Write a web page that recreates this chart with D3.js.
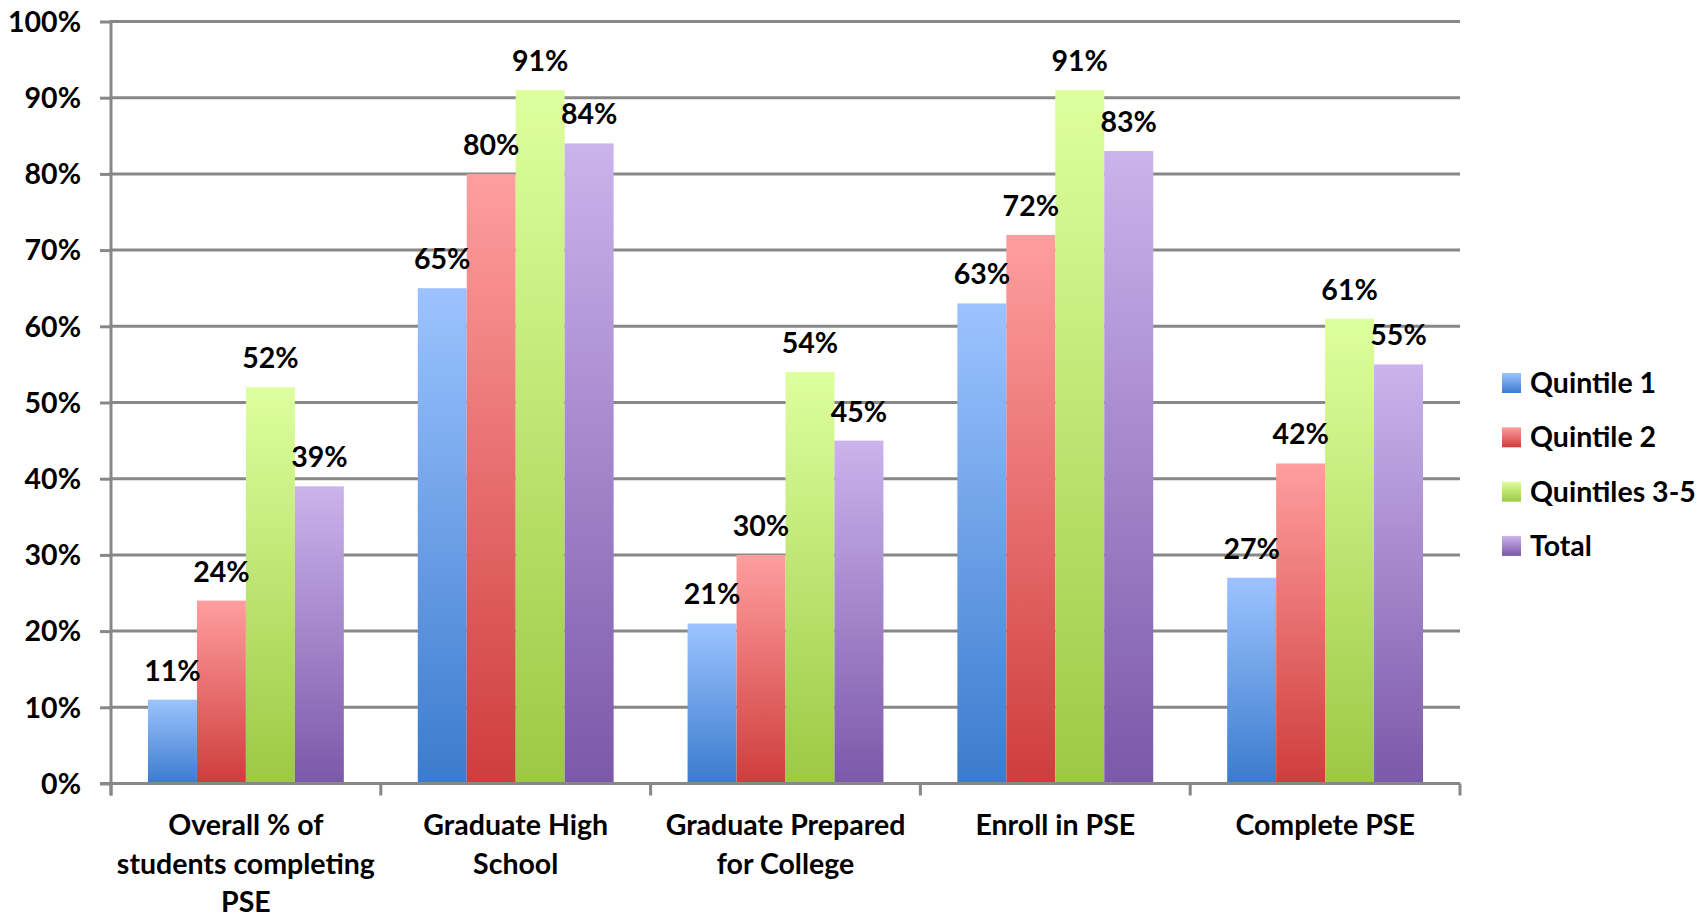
<!DOCTYPE html>
<html>
<head>
<meta charset="utf-8">
<script src="https://cdn.jsdelivr.net/npm/d3@7"></script>
<style>
  html, body { margin: 0; padding: 0; background: #fff; }
  svg { display: block; }
  text { font-family: Lato, "Open Sans", sans-serif; font-weight: 700; fill: #000; }
</style>
</head>
<body>
<svg id="chart" width="1707" height="919"></svg>
<script>
// Categories (axis labels are split into lines as printed)
const categories = [
  "Overall % of students completing PSE",
  "Graduate High School",
  "Graduate Prepared for College",
  "Enroll in PSE",
  "Complete PSE"
];
const categoryLines = [
  ["Overall % of", "students completing", "PSE"],
  ["Graduate High", "School"],
  ["Graduate Prepared", "for College"],
  ["Enroll in PSE"],
  ["Complete PSE"]
];

// Series (percent values per category)
const seriesNames = ["Quintile 1", "Quintile 2", "Quintiles 3-5", "Total"];
const quintile1  = [11, 65, 21, 63, 27];
const quintile2  = [24, 80, 30, 72, 42];
const quintile35 = [52, 91, 54, 91, 61];
const total      = [39, 84, 45, 83, 55];
const seriesValues = [quintile1, quintile2, quintile35, total];

// Y-axis ticks
const yTicks = [0, 10, 20, 30, 40, 50, 60, 70, 80, 90, 100];

// Gradient colours per series: [top, bottom]
const seriesGradients = [
  ["#9cc3ff", "#3b7bcd"],
  ["#ff9e9e", "#cf3d3d"],
  ["#deff9e", "#9cc944"],
  ["#cbb3ec", "#7c58a9"]
];

const svg = d3.select("#chart");
const margin = { left: 111, right: 1460, top: 21.5, bottom: 783.5 };
const gridColor = "#878787";

const x0 = d3.scaleBand()
  .domain(categories)
  .range([margin.left, margin.right])
  .paddingInner(0)
  .paddingOuter(0);

const x1 = d3.scaleBand()
  .domain(seriesNames)
  .range([0, x0.bandwidth()])
  .paddingOuter(0.755)
  .paddingInner(0);

const y = d3.scaleLinear()
  .domain([0, 100])
  .range([margin.bottom, margin.top]);

// Gradients
const defs = svg.append("defs");
seriesNames.forEach((name, i) => {
  const g = defs.append("linearGradient")
    .attr("id", "grad" + i)
    .attr("x1", 0).attr("y1", 0).attr("x2", 0).attr("y2", 1);
  g.append("stop").attr("offset", "0%").attr("stop-color", seriesGradients[i][0]);
  g.append("stop").attr("offset", "100%").attr("stop-color", seriesGradients[i][1]);
});

// Y axis with tick labels
const yAxis = d3.axisLeft(y)
  .tickValues(yTicks)
  .tickFormat(d => d + "%")
  .tickSize(11)
  .tickPadding(19);
const yG = svg.append("g")
  .attr("transform", `translate(${margin.left},0)`)
  .call(yAxis);
yG.select(".domain").attr("stroke", gridColor).attr("stroke-width", 3)
  .attr("d", `M0,${margin.top - 1.5}V${margin.bottom + 12}`);
yG.selectAll(".tick line").attr("stroke", gridColor).attr("stroke-width", 3);
yG.selectAll(".tick text")
  .attr("font-size", 28.5)
  .attr("dy", "0.34em")
  .style("font-family", "Lato, sans-serif")
  .style("font-weight", 700)
  .attr("fill", "#000");

// Horizontal gridlines
svg.append("g").selectAll("line")
  .data(yTicks.filter(d => d > 0))
  .join("line")
  .attr("x1", margin.left)
  .attr("x2", margin.right)
  .attr("y1", d => y(d))
  .attr("y2", d => y(d))
  .attr("stroke", gridColor)
  .attr("stroke-width", 3);

// Bars
const groups = svg.append("g").selectAll("g")
  .data(categories)
  .join("g")
  .attr("transform", d => `translate(${x0(d)},0)`);

groups.selectAll("rect")
  .data((d, ci) => seriesNames.map((s, si) => ({ s, si, v: seriesValues[si][ci] })))
  .join("rect")
  .attr("x", d => x1(d.s))
  .attr("width", x1.bandwidth())
  .attr("y", d => y(d.v))
  .attr("height", d => y(0) - y(d.v))
  .attr("fill", d => `url(#grad${d.si})`);

// Value labels
groups.selectAll("text.val")
  .data((d, ci) => seriesNames.map((s, si) => ({ s, si, v: seriesValues[si][ci] })))
  .join("text")
  .attr("class", "val")
  .attr("x", d => x1(d.s) + x1.bandwidth() / 2)
  .attr("y", d => y(d.v) - 19)
  .attr("text-anchor", "middle")
  .attr("font-size", 28.5)
  .text(d => d.v + "%");

// X axis line and category boundary ticks
svg.append("line")
  .attr("x1", margin.left - 11)
  .attr("x2", margin.right)
  .attr("y1", y(0))
  .attr("y2", y(0))
  .attr("stroke", gridColor)
  .attr("stroke-width", 3);

const boundaries = categories.map(c => x0(c)).concat([margin.right]);
svg.append("g").selectAll("line")
  .data(boundaries)
  .join("line")
  .attr("x1", d => d).attr("x2", d => d)
  .attr("y1", y(0)).attr("y2", y(0) + 12)
  .attr("stroke", gridColor)
  .attr("stroke-width", 3);

// Category labels
const catG = svg.append("g").selectAll("text")
  .data(categories)
  .join("text")
  .attr("text-anchor", "middle")
  .attr("font-size", 28.5)
  .attr("x", d => x0(d) + x0.bandwidth() / 2)
  .attr("y", 835);
catG.selectAll("tspan")
  .data((d, i) => categoryLines[i])
  .join("tspan")
  .attr("x", function () { return d3.select(this.parentNode).attr("x"); })
  .attr("dy", (d, i) => i === 0 ? 0 : 38.5)
  .text(d => d);

// Legend
const legend = svg.append("g").selectAll("g")
  .data(seriesNames)
  .join("g")
  .attr("transform", (d, i) => `translate(1502,${383 + i * 54.3})`);
legend.append("rect")
  .attr("x", 0).attr("y", -10)
  .attr("width", 19).attr("height", 20)
  .attr("fill", (d, i) => `url(#grad${i})`);
legend.append("text")
  .attr("x", 28)
  .attr("dy", "0.35em")
  .attr("font-size", 28.5)
  .text(d => d);
</script>
</body>
</html>
